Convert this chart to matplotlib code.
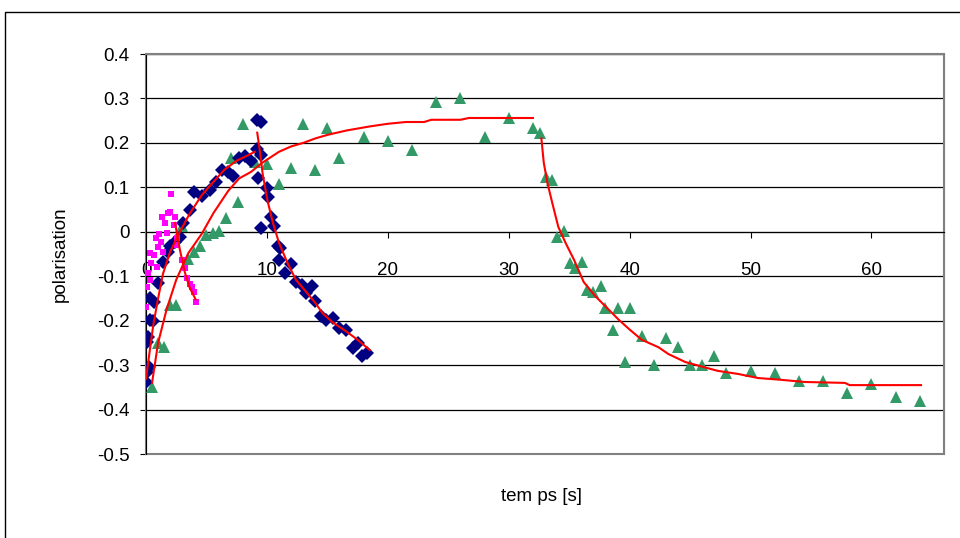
import numpy as np
import matplotlib.pyplot as plt
from matplotlib.patches import Rectangle

plt.rcParams['font.family'] = ['Liberation Sans', 'DejaVu Sans']

# blue diamonds (first run)
x_blue = [0.0, 0.1, 0.25, 0.1, 0.15, 0.3, 0.6, 0.3, 0.7, 1.0, 1.4, 1.8, 2.0, 2.4, 2.8,
          3.1, 3.6, 4.0, 4.6, 5.3, 5.8, 6.3, 6.8, 7.2, 7.7, 8.2, 8.7,
          9.2, 9.5, 9.2, 9.5, 9.3, 10.0, 10.1, 10.3, 10.6, 9.5, 10.9, 11.1, 11.0,
          12.0, 11.5, 12.4, 12.9, 13.2, 13.7, 14.0, 14.5, 14.9, 15.5, 16.0, 16.5,
          17.1, 17.5, 17.9, 18.3]
y_blue = [-0.338, -0.315, -0.304, -0.248, -0.237, -0.198, -0.200, -0.149, -0.157, -0.115,
          -0.068, -0.045, -0.033, -0.023, -0.011, 0.020, 0.050, 0.090, 0.081, 0.095,
          0.112, 0.138, 0.134, 0.126, 0.165, 0.170, 0.160,
          0.252, 0.246, 0.187, 0.173, 0.121, 0.099, 0.079, 0.034, 0.012, 0.009,
          -0.033, -0.037, -0.063, -0.072, -0.092, -0.112, -0.119, -0.137, -0.121,
          -0.155, -0.190, -0.198, -0.194, -0.216, -0.221, -0.261, -0.250, -0.279, -0.273]

# magenta squares
x_mag = [2.1, 1.8, 2.0, 2.4, 1.3, 1.6, 2.3, 1.1, 0.8, 1.2, 1.7, 2.6, 2.6, 1.0, 1.4,
         0.3, 0.7, 0.4, 0.9, 3.0, 3.2, 3.4, 3.8, 4.0, 4.1, 0.2, 0.1, 0.3, 0.0, 3.6]
y_mag = [0.086, 0.043, 0.045, 0.034, 0.034, 0.020, 0.016, -0.005, -0.014, -0.023,
         -0.002, -0.014, -0.030, -0.034, -0.045, -0.047, -0.052, -0.070, -0.079,
         -0.063, -0.081, -0.104, -0.124, -0.135, -0.157, -0.092, -0.124, -0.108,
         -0.169, -0.118]

# green triangles
x_green = [0.5, 1.0, 1.5, 2.0, 2.5, 3.0, 3.5, 4.0, 4.5, 5.0, 5.5, 6.0, 6.6, 7.0, 7.6,
           8.0, 9.0, 10.0, 11.0, 12.0, 13.0, 14.0, 15.0, 16.0, 18.0, 20.0, 22.0,
           24.0, 26.0, 28.0, 30.0, 32.0, 32.6, 33.1, 33.6, 34.0, 34.6, 35.1, 35.5,
           36.1, 36.5, 37.0, 37.6, 38.0, 38.6, 39.0, 39.6, 40.0, 41.0, 42.0, 43.0,
           44.0, 45.0, 46.0, 47.0, 48.0, 50.0, 52.0, 54.0, 56.0, 58.0, 60.0, 62.0, 64.0]
y_green = [-0.35, -0.25, -0.26, -0.165, -0.165, 0.014, -0.062, -0.045, -0.032, -0.008,
           -0.003, 0.002, 0.031, 0.167, 0.068, 0.242, 0.158, 0.153, 0.108, 0.144,
           0.243, 0.140, 0.234, 0.167, 0.214, 0.205, 0.185, 0.293, 0.302, 0.214,
           0.257, 0.234, 0.222, 0.124, 0.117, -0.011, 0.002, -0.070, -0.081, -0.067,
           -0.130, -0.135, -0.122, -0.171, -0.220, -0.171, -0.293, -0.171, -0.235,
           -0.300, -0.239, -0.260, -0.300, -0.300, -0.280, -0.318, -0.313, -0.318,
           -0.335, -0.335, -0.362, -0.342, -0.371, -0.380]

# red fit curves
fit_blue_up_x = [0.0, 0.3, 0.6, 1.0, 1.4, 2.0, 2.8, 3.6, 4.6, 5.5, 6.5, 7.5, 8.2, 9.0]
fit_blue_up_y = [-0.33, -0.27, -0.21, -0.15, -0.095, -0.045, 0.0, 0.04, 0.082, 0.11,
                 0.14, 0.16, 0.169, 0.18]
fit_blue_dn_x = [9.2, 9.4, 9.65, 10.05, 10.5, 11.0, 11.7, 12.4, 13.3, 14.0, 14.6, 15.4,
                 16.6, 17.5, 18.5]
fit_blue_dn_y = [0.223, 0.185, 0.13, 0.07, 0.02, -0.025, -0.07, -0.108, -0.137, -0.16,
                 -0.183, -0.203, -0.225, -0.243, -0.266]
fit_mag_dn_x = [2.4, 2.8, 3.2, 3.6, 4.1]
fit_mag_dn_y = [0.02, -0.04, -0.09, -0.125, -0.152]
fit_green_up_x = [0.5, 1.0, 1.7, 2.5, 3.5, 4.6, 5.6, 6.8, 7.7, 8.7, 9.6, 11.0, 12.0,
                  13.0, 14.0, 15.0, 16.6, 18.5, 20.0, 21.5, 23.0, 23.6, 26.0, 26.7, 32.0]
fit_green_up_y = [-0.34, -0.25, -0.175, -0.108, -0.048, -0.005, 0.043, 0.092, 0.12,
                  0.135, 0.155, 0.18, 0.192, 0.2, 0.21, 0.218, 0.228, 0.237, 0.243,
                  0.247, 0.247, 0.252, 0.252, 0.256, 0.256]
fit_green_dn_x = [32.7, 32.9, 33.2, 33.6, 34.1, 34.7, 35.4, 36.2, 37.2, 38.3, 39.1, 40.0,
                  41.0, 42.4, 43.2, 44.6, 46.2, 47.3, 49.0, 50.6, 52.5, 54.5, 57.8,
                  58.2, 64.1]
fit_green_dn_y = [0.21, 0.155, 0.11, 0.065, 0.011, -0.025, -0.063, -0.113, -0.146,
                  -0.176, -0.198, -0.22, -0.243, -0.26, -0.275, -0.293, -0.305, -0.313,
                  -0.32, -0.329, -0.333, -0.338, -0.34, -0.345, -0.345]

fig = plt.figure(figsize=(9.6, 5.38), dpi=100)
fig.patches.append(Rectangle((5 / 960, -0.1), 1.2, 1.1 - 12 / 538,
                             transform=fig.transFigure, fill=False,
                             edgecolor='black', linewidth=1.0))
ax = fig.add_axes([146 / 960, 1 - 454 / 538, 798 / 960, 400 / 538])

ax.plot(x_green, y_green, linestyle='none', marker='^', markersize=8,
        color='#339966', markeredgewidth=0, zorder=3)
ax.plot(x_blue, y_blue, linestyle='none', marker='D', markersize=7,
        color='#000080', markeredgewidth=0, zorder=3)
ax.plot(x_mag, y_mag, linestyle='none', marker='s', markersize=4.5,
        color='#FF00FF', markeredgewidth=0, zorder=3)

for fx, fy in [(fit_blue_up_x, fit_blue_up_y), (fit_blue_dn_x, fit_blue_dn_y),
               (fit_mag_dn_x, fit_mag_dn_y), (fit_green_up_x, fit_green_up_y),
               (fit_green_dn_x, fit_green_dn_y)]:
    ax.plot(fx, fy, color='#FF0000', linewidth=1.5, zorder=4)

ax.set_xlim(0, 66)
ax.set_ylim(-0.5, 0.4)
ax.set_xticks([0, 10, 20, 30, 40, 50, 60])
ax.set_yticks(np.arange(-0.5, 0.41, 0.1))
ax.set_yticklabels(['-0.5', '-0.4', '-0.3', '-0.2', '-0.1', '0', '0.1', '0.2', '0.3', '0.4'])
ax.yaxis.grid(True, color='black', linewidth=0.9)
ax.set_axisbelow(True)

for s in ['top', 'right']:
    ax.spines[s].set_color('#808080')
ax.spines['left'].set_color('black')
ax.spines['bottom'].set_position(('data', 0))
ax.spines['bottom'].set_color('black')
ax.add_patch(Rectangle((0, 0), 1, 1, transform=ax.transAxes, fill=False,
                       edgecolor='#808080', linewidth=1.5, zorder=1, clip_on=False))

ax.tick_params(axis='both', direction='out', length=4, width=0.8, labelsize=13.5)
ax.tick_params(axis='x', pad=18)
ax.tick_params(axis='y', pad=8)

ax.set_ylabel('polarisation', fontsize=13.5, labelpad=20)
ax.set_xlabel('tem ps [s]', fontsize=13.5)
ax.xaxis.set_label_coords(0.495, -0.085)

plt.savefig('out.png', dpi=100)
plt.close()
